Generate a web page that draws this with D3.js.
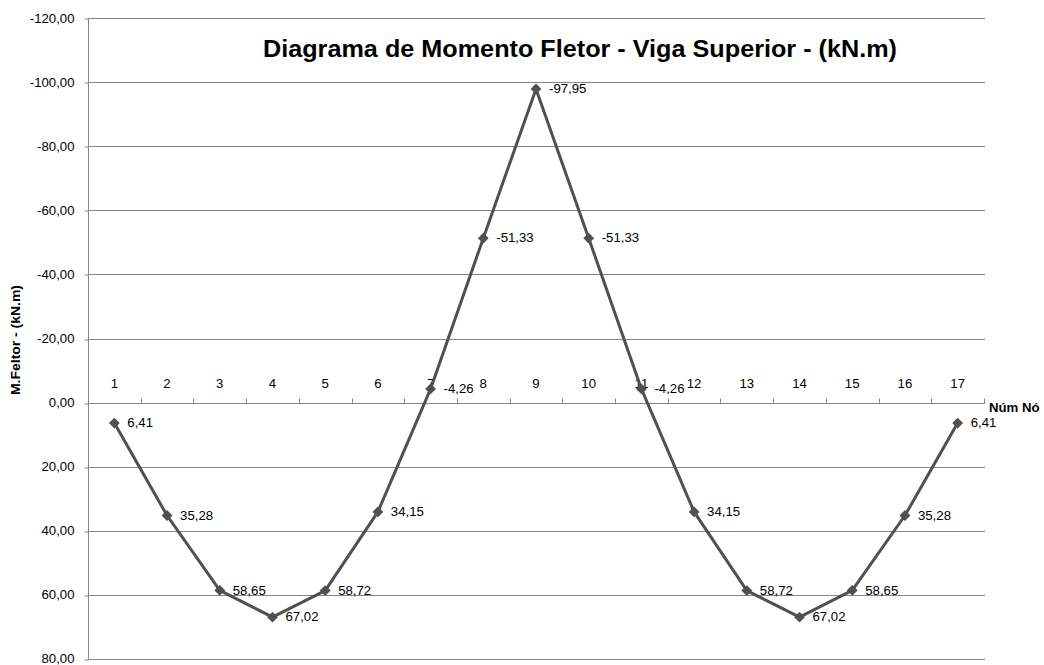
<!DOCTYPE html>
<html>
<head>
<meta charset="utf-8">
<script src="https://cdn.jsdelivr.net/npm/d3@7"></script>
<style>
  html, body { margin: 0; padding: 0; background: #fff; }
  svg { display: block; font-family: "Liberation Sans", Arial, sans-serif; }
  svg text { font-family: "Liberation Sans", Arial, sans-serif; }
</style>
</head>
<body>
<svg id="chart" width="1044" height="665"></svg>
<script>
// Bending moment per node of the upper beam (kN.m)
const nodes = ["1","2","3","4","5","6","7","8","9","10","11","12","13","14","15","16","17"];
const moments = [6.41, 35.28, 58.65, 67.02, 58.72, 34.15, -4.26, -51.33, -97.95, -51.33, -4.26, 34.15, 58.72, 67.02, 58.65, 35.28, 6.41];
const yTicks = [-120, -100, -80, -60, -40, -20, 0, 20, 40, 60, 80];

const titleText = "Diagrama de Momento Fletor - Viga Superior - (kN.m)";
const yTitle = "M.Feltor - (kN.m)";
const xTitle = "Núm Nó";

const svg = d3.select("#chart");
const plotL = 88, plotR = 984, plotT = 18.3, plotB = 658.7;

// comma decimal, plain hyphen for negatives
const fmt = v => (v < 0 ? "-" : "") + Math.abs(v).toFixed(2).replace(".", ",");

const x = d3.scaleBand().domain(nodes).range([plotL, plotR]).paddingInner(0).paddingOuter(0);
const y = d3.scaleLinear().domain([-120, 80]).range([plotT, plotB]);

// horizontal gridlines
svg.append("g").selectAll("line").data(yTicks).join("line")
  .attr("x1", plotL).attr("x2", plotR + 1)
  .attr("y1", d => Math.round(y(d)) + 0.5).attr("y2", d => Math.round(y(d)) + 0.5)
  .attr("stroke", "#868686").attr("stroke-width", 1);

// value axis
const yAxis = svg.append("g")
  .attr("transform", `translate(${plotL + 0.5},0)`)
  .call(d3.axisLeft(y).tickValues(yTicks).tickSize(4).tickPadding(10).tickFormat(fmt));
yAxis.select(".domain").attr("stroke", "#868686").attr("d", `M0,${plotT}V${plotB}`);
yAxis.selectAll(".tick line").attr("stroke", "#868686")
  .attr("transform", function(d) { return `translate(0,${Math.round(y(d)) + 0.5 - y(d)})`; });
yAxis.selectAll(".tick text").attr("font-size", 12).attr("fill", "#000")
  .attr("font-family", null).attr("dy", "0.35em");
yAxis.attr("font-family", null);

// category axis along zero, ticks pointing up, labels above
const y0 = Math.round(y(0)) + 0.5;
const xAxis = svg.append("g").attr("transform", `translate(0,${y0})`);
xAxis.append("line").attr("x1", plotL).attr("x2", plotR).attr("stroke", "#868686");
const bounds = d3.range(1, nodes.length + 1).map(i => plotL + i * x.bandwidth());
xAxis.selectAll("line.tk").data(bounds).join("line").attr("class", "tk")
  .attr("x1", d => Math.round(d) + 0.5).attr("x2", d => Math.round(d) + 0.5)
  .attr("y1", 0).attr("y2", -5).attr("stroke", "#868686");
xAxis.selectAll("text").data(nodes).join("text")
  .attr("x", d => x(d) + x.bandwidth() / 2).attr("y", -16)
  .attr("text-anchor", "middle").attr("font-size", 12).attr("fill", "#000")
  .text(d => d);
svg.append("text").attr("x", plotR + 5).attr("y", y0 + 8)
  .attr("font-size", 12).attr("font-weight", "bold").attr("fill", "#000").text(xTitle);

// series line
const cx = d => x(d) + x.bandwidth() / 2;
svg.append("path").datum(nodes.map((n, i) => [cx(n), y(moments[i])]))
  .attr("d", d3.line())
  .attr("fill", "none").attr("stroke", "#505050").attr("stroke-width", 3)
  .attr("stroke-linejoin", "round");

// diamond markers
svg.append("g").selectAll("path").data(nodes).join("path")
  .attr("transform", (d, i) => `translate(${cx(d)},${y(moments[i])})`)
  .attr("d", d3.symbol(d3.symbolDiamond2, 75))
  .attr("fill", "#505050");

// value labels
svg.append("g").selectAll("text").data(nodes).join("text")
  .attr("x", d => cx(d) + 13).attr("y", (d, i) => y(moments[i]))
  .attr("dy", "0.35em").attr("font-size", 12).attr("fill", "#000")
  .text((d, i) => fmt(moments[i]));

// titles
svg.append("text").attr("class", "fixed").attr("x", 580).attr("y", 57).attr("text-anchor", "middle")
  .attr("font-size", 23).attr("font-weight", "bold").attr("fill", "#000")
  .attr("textLength", 634).attr("lengthAdjust", "spacingAndGlyphs").text(titleText);
svg.append("text").attr("class", "fixed").attr("transform", "translate(20,340) rotate(-90)")
  .attr("text-anchor", "middle").attr("font-size", 12.5).attr("font-weight", "bold")
  .attr("textLength", 110).attr("lengthAdjust", "spacingAndGlyphs")
  .attr("fill", "#000").text(yTitle);

// widen the remaining text slightly, keeping its anchor
svg.selectAll("text:not(.fixed)").each(function() {
  const w = this.getComputedTextLength();
  d3.select(this).attr("textLength", w * 1.1).attr("lengthAdjust", "spacingAndGlyphs");
});
</script>
</body>
</html>
